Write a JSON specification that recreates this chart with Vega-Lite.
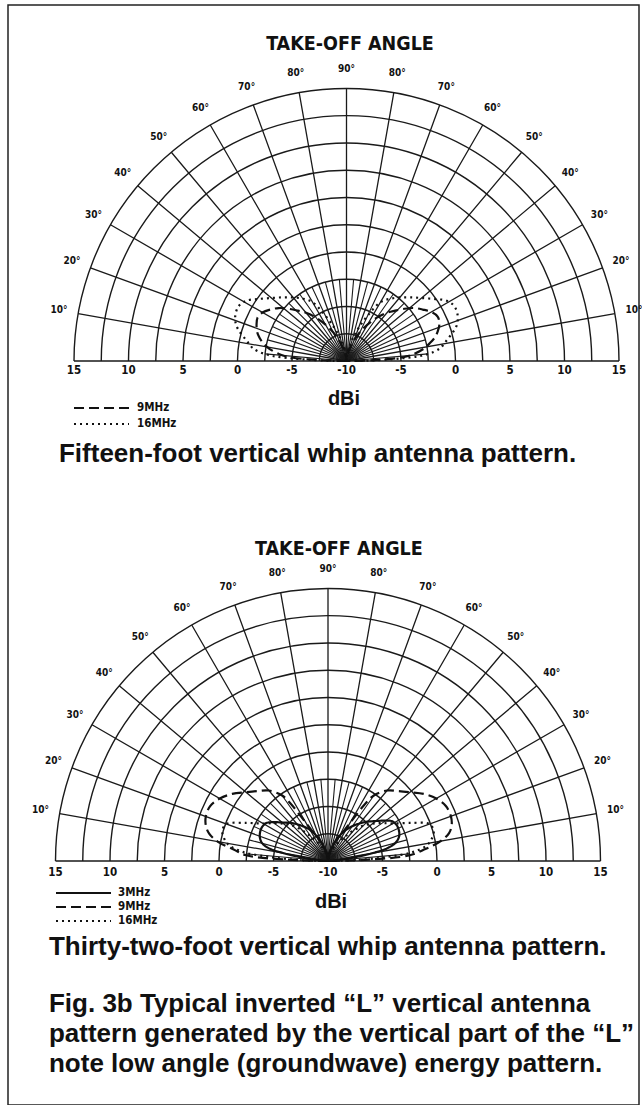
{
  "$schema": "https://vega.github.io/schema/vega-lite/v6.json",
  "width": 642,
  "height": 1105,
  "autosize": {"type": "fit", "contains": "padding"},
  "padding": {"left": 8, "top": 5, "right": 3, "bottom": 0},
  "background": "white",
  "config": {"view": {"stroke": "#222", "strokeWidth": 1.5}},
  "datasets": {
    "rings": [{"db": -7.5}, {"db": -5}, {"db": -2.5}, {"db": 0}, {"db": 2.5}, {"db": 5}, {"db": 7.5}, {"db": 10}, {"db": 12.5}, {"db": 15}],
    "major": [{"t": 0}, {"t": 10}, {"t": 20}, {"t": 30}, {"t": 40}, {"t": 50}, {"t": 60}, {"t": 70}, {"t": 80}, {"t": 90}, {"t": 100}, {"t": 110}, {"t": 120}, {"t": 130}, {"t": 140}, {"t": 150}, {"t": 160}, {"t": 170}, {"t": 180}],
    "minor": [{"t": 5}, {"t": 15}, {"t": 25}, {"t": 35}, {"t": 45}, {"t": 55}, {"t": 65}, {"t": 75}, {"t": 85}, {"t": 95}, {"t": 105}, {"t": 115}, {"t": 125}, {"t": 135}, {"t": 145}, {"t": 155}, {"t": 165}, {"t": 175}],
    "ticks": [{"db": 15}, {"db": 10}, {"db": 5}, {"db": 0}, {"db": -5}, {"db": -10}],
    "angles": [
      {"t": 10, "lab": "10°"}, {"t": 20, "lab": "20°"}, {"t": 30, "lab": "30°"}, {"t": 40, "lab": "40°"},
      {"t": 50, "lab": "50°"}, {"t": 60, "lab": "60°"}, {"t": 70, "lab": "70°"}, {"t": 80, "lab": "80°"},
      {"t": 90, "lab": "90°"}, {"t": 100, "lab": "80°"}, {"t": 110, "lab": "70°"}, {"t": 120, "lab": "60°"},
      {"t": 130, "lab": "50°"}, {"t": 140, "lab": "40°"}, {"t": 150, "lab": "30°"}, {"t": 160, "lab": "20°"},
      {"t": 170, "lab": "10°"}
    ],
    "patA": [
      {"f": "9MHz", "t": 0, "db": -10}, {"f": "9MHz", "t": 2, "db": -7.25}, {"f": "9MHz", "t": 4, "db": -4.68}, {"f": "9MHz", "t": 6, "db": -3.76},
      {"f": "9MHz", "t": 9, "db": -2.84}, {"f": "9MHz", "t": 12, "db": -2.2}, {"f": "9MHz", "t": 15, "db": -1.74}, {"f": "9MHz", "t": 18, "db": -1.38},
      {"f": "9MHz", "t": 22, "db": -1.1}, {"f": "9MHz", "t": 26, "db": -0.92}, {"f": "9MHz", "t": 30, "db": -1.1}, {"f": "9MHz", "t": 34, "db": -1.56},
      {"f": "9MHz", "t": 38, "db": -2.11}, {"f": "9MHz", "t": 42, "db": -2.84}, {"f": "9MHz", "t": 46, "db": -3.58}, {"f": "9MHz", "t": 50, "db": -4.22},
      {"f": "9MHz", "t": 55, "db": -5.14}, {"f": "9MHz", "t": 60, "db": -6.15}, {"f": "9MHz", "t": 65, "db": -7.06}, {"f": "9MHz", "t": 70, "db": -7.98},
      {"f": "9MHz", "t": 75, "db": -8.72}, {"f": "9MHz", "t": 80, "db": -9.27}, {"f": "9MHz", "t": 85, "db": -9.72}, {"f": "9MHz", "t": 90, "db": -10},
      {"f": "9MHz", "t": 95, "db": -9.72}, {"f": "9MHz", "t": 100, "db": -9.27}, {"f": "9MHz", "t": 105, "db": -8.72}, {"f": "9MHz", "t": 110, "db": -7.98},
      {"f": "9MHz", "t": 115, "db": -7.06}, {"f": "9MHz", "t": 120, "db": -6.15}, {"f": "9MHz", "t": 125, "db": -5.14}, {"f": "9MHz", "t": 130, "db": -4.22},
      {"f": "9MHz", "t": 134, "db": -3.58}, {"f": "9MHz", "t": 138, "db": -2.84}, {"f": "9MHz", "t": 142, "db": -2.11}, {"f": "9MHz", "t": 146, "db": -1.56},
      {"f": "9MHz", "t": 150, "db": -1.0}, {"f": "9MHz", "t": 154, "db": -0.7}, {"f": "9MHz", "t": 158, "db": -0.8}, {"f": "9MHz", "t": 162, "db": -1.2},
      {"f": "9MHz", "t": 165, "db": -1.6}, {"f": "9MHz", "t": 168, "db": -2.2}, {"f": "9MHz", "t": 171, "db": -2.84}, {"f": "9MHz", "t": 174, "db": -3.76},
      {"f": "9MHz", "t": 176, "db": -4.68}, {"f": "9MHz", "t": 178, "db": -7.25}, {"f": "9MHz", "t": 180, "db": -10},
      {"f": "16MHz", "t": 0, "db": -10}, {"f": "16MHz", "t": 1, "db": -8.17}, {"f": "16MHz", "t": 2, "db": -6.33}, {"f": "16MHz", "t": 3, "db": -4.5},
      {"f": "16MHz", "t": 4, "db": -3.12}, {"f": "16MHz", "t": 6, "db": -1.93}, {"f": "16MHz", "t": 8, "db": -1.28}, {"f": "16MHz", "t": 10, "db": -0.92},
      {"f": "16MHz", "t": 12, "db": -0.55}, {"f": "16MHz", "t": 15, "db": 0.09}, {"f": "16MHz", "t": 18, "db": 0.64}, {"f": "16MHz", "t": 22, "db": 1.01},
      {"f": "16MHz", "t": 27, "db": 1.1}, {"f": "16MHz", "t": 31, "db": 0.73}, {"f": "16MHz", "t": 35, "db": -0.09}, {"f": "16MHz", "t": 40, "db": -1.01},
      {"f": "16MHz", "t": 45, "db": -1.74}, {"f": "16MHz", "t": 50, "db": -2.39}, {"f": "16MHz", "t": 55, "db": -3.03}, {"f": "16MHz", "t": 60, "db": -3.76},
      {"f": "16MHz", "t": 65, "db": -5.41}, {"f": "16MHz", "t": 70, "db": -6.79}, {"f": "16MHz", "t": 75, "db": -7.89}, {"f": "16MHz", "t": 80, "db": -8.81},
      {"f": "16MHz", "t": 85, "db": -9.45}, {"f": "16MHz", "t": 90, "db": -10}, {"f": "16MHz", "t": 95, "db": -9.45}, {"f": "16MHz", "t": 100, "db": -8.81},
      {"f": "16MHz", "t": 105, "db": -7.89}, {"f": "16MHz", "t": 110, "db": -6.79}, {"f": "16MHz", "t": 115, "db": -5.41}, {"f": "16MHz", "t": 120, "db": -3.76},
      {"f": "16MHz", "t": 125, "db": -3.03}, {"f": "16MHz", "t": 130, "db": -2.39}, {"f": "16MHz", "t": 135, "db": -1.74}, {"f": "16MHz", "t": 140, "db": -1.01},
      {"f": "16MHz", "t": 145, "db": -0.09}, {"f": "16MHz", "t": 149, "db": 0.73}, {"f": "16MHz", "t": 153, "db": 1.1}, {"f": "16MHz", "t": 158, "db": 1.01},
      {"f": "16MHz", "t": 162, "db": 0.64}, {"f": "16MHz", "t": 165, "db": 0.09}, {"f": "16MHz", "t": 168, "db": -0.55}, {"f": "16MHz", "t": 170, "db": -0.92},
      {"f": "16MHz", "t": 172, "db": -1.28}, {"f": "16MHz", "t": 174, "db": -1.93}, {"f": "16MHz", "t": 176, "db": -3.12}, {"f": "16MHz", "t": 177, "db": -4.5},
      {"f": "16MHz", "t": 178, "db": -6.33}, {"f": "16MHz", "t": 179, "db": -8.17}, {"f": "16MHz", "t": 180, "db": -10}
    ],
    "patB": [
      {"f": "3MHz", "t": 0, "db": -10}, {"f": "3MHz", "t": 4, "db": -9.27}, {"f": "3MHz", "t": 8, "db": -7.43}, {"f": "3MHz", "t": 10, "db": -5.87},
      {"f": "3MHz", "t": 12, "db": -4.5}, {"f": "3MHz", "t": 15, "db": -3.76}, {"f": "3MHz", "t": 19, "db": -3.39}, {"f": "3MHz", "t": 24, "db": -3.21},
      {"f": "3MHz", "t": 28, "db": -3.21}, {"f": "3MHz", "t": 32, "db": -3.39}, {"f": "3MHz", "t": 36, "db": -3.94}, {"f": "3MHz", "t": 40, "db": -4.5},
      {"f": "3MHz", "t": 45, "db": -5.05}, {"f": "3MHz", "t": 50, "db": -5.6}, {"f": "3MHz", "t": 55, "db": -6.15}, {"f": "3MHz", "t": 60, "db": -6.7},
      {"f": "3MHz", "t": 65, "db": -7.43}, {"f": "3MHz", "t": 70, "db": -8.17}, {"f": "3MHz", "t": 75, "db": -8.81}, {"f": "3MHz", "t": 80, "db": -9.27},
      {"f": "3MHz", "t": 85, "db": -9.72}, {"f": "3MHz", "t": 90, "db": -10}, {"f": "3MHz", "t": 95, "db": -9.72}, {"f": "3MHz", "t": 100, "db": -9.27},
      {"f": "3MHz", "t": 105, "db": -8.81}, {"f": "3MHz", "t": 110, "db": -8.17}, {"f": "3MHz", "t": 115, "db": -7.43}, {"f": "3MHz", "t": 120, "db": -6.7},
      {"f": "3MHz", "t": 125, "db": -6.1}, {"f": "3MHz", "t": 130, "db": -5.5}, {"f": "3MHz", "t": 135, "db": -4.9}, {"f": "3MHz", "t": 140, "db": -4.3},
      {"f": "3MHz", "t": 144, "db": -3.7}, {"f": "3MHz", "t": 148, "db": -3.1}, {"f": "3MHz", "t": 152, "db": -2.9}, {"f": "3MHz", "t": 156, "db": -2.9},
      {"f": "3MHz", "t": 161, "db": -3.1}, {"f": "3MHz", "t": 165, "db": -3.6}, {"f": "3MHz", "t": 168, "db": -4.5}, {"f": "3MHz", "t": 170, "db": -5.87},
      {"f": "3MHz", "t": 172, "db": -7.43}, {"f": "3MHz", "t": 176, "db": -9.27}, {"f": "3MHz", "t": 180, "db": -10},
      {"f": "9MHz", "t": 0, "db": -10}, {"f": "9MHz", "t": 2, "db": -6.33}, {"f": "9MHz", "t": 4, "db": -2.48}, {"f": "9MHz", "t": 7, "db": -1.28},
      {"f": "9MHz", "t": 10, "db": 0.28}, {"f": "9MHz", "t": 13, "db": 1.19}, {"f": "9MHz", "t": 16, "db": 1.65}, {"f": "9MHz", "t": 20, "db": 1.93},
      {"f": "9MHz", "t": 25, "db": 1.93}, {"f": "9MHz", "t": 30, "db": 1.47}, {"f": "9MHz", "t": 35, "db": 0.73}, {"f": "9MHz", "t": 40, "db": -0.18},
      {"f": "9MHz", "t": 45, "db": -0.92}, {"f": "9MHz", "t": 50, "db": -1.56}, {"f": "9MHz", "t": 55, "db": -2.66}, {"f": "9MHz", "t": 57, "db": -3.76},
      {"f": "9MHz", "t": 59, "db": -5.41}, {"f": "9MHz", "t": 62, "db": -6.79}, {"f": "9MHz", "t": 66, "db": -7.52}, {"f": "9MHz", "t": 70, "db": -8.17},
      {"f": "9MHz", "t": 75, "db": -8.72}, {"f": "9MHz", "t": 80, "db": -9.27}, {"f": "9MHz", "t": 85, "db": -9.63}, {"f": "9MHz", "t": 90, "db": -10},
      {"f": "9MHz", "t": 95, "db": -9.63}, {"f": "9MHz", "t": 100, "db": -9.27}, {"f": "9MHz", "t": 105, "db": -8.72}, {"f": "9MHz", "t": 110, "db": -8.17},
      {"f": "9MHz", "t": 114, "db": -7.52}, {"f": "9MHz", "t": 118, "db": -6.79}, {"f": "9MHz", "t": 121, "db": -5.41}, {"f": "9MHz", "t": 123, "db": -3.76},
      {"f": "9MHz", "t": 125, "db": -2.66}, {"f": "9MHz", "t": 130, "db": -1.56}, {"f": "9MHz", "t": 135, "db": -0.92}, {"f": "9MHz", "t": 140, "db": -0.18},
      {"f": "9MHz", "t": 145, "db": 0.73}, {"f": "9MHz", "t": 150, "db": 1.47}, {"f": "9MHz", "t": 155, "db": 1.93}, {"f": "9MHz", "t": 160, "db": 2.0},
      {"f": "9MHz", "t": 164, "db": 1.8}, {"f": "9MHz", "t": 167, "db": 1.4}, {"f": "9MHz", "t": 170, "db": 0.5}, {"f": "9MHz", "t": 173, "db": -1.0},
      {"f": "9MHz", "t": 176, "db": -2.48}, {"f": "9MHz", "t": 178, "db": -6.33}, {"f": "9MHz", "t": 180, "db": -10},
      {"f": "16MHz", "t": 0, "db": -10}, {"f": "16MHz", "t": 2, "db": -7.25}, {"f": "16MHz", "t": 4, "db": -4.5}, {"f": "16MHz", "t": 6, "db": -2.2},
      {"f": "16MHz", "t": 9, "db": -0.83}, {"f": "16MHz", "t": 12, "db": -0.28}, {"f": "16MHz", "t": 16, "db": 0.09}, {"f": "16MHz", "t": 20, "db": -0.09},
      {"f": "16MHz", "t": 25, "db": -1.74}, {"f": "16MHz", "t": 30, "db": -3.12}, {"f": "16MHz", "t": 35, "db": -3.94}, {"f": "16MHz", "t": 40, "db": -4.68},
      {"f": "16MHz", "t": 45, "db": -5.41}, {"f": "16MHz", "t": 50, "db": -6.33}, {"f": "16MHz", "t": 55, "db": -7.25}, {"f": "16MHz", "t": 60, "db": -7.98},
      {"f": "16MHz", "t": 70, "db": -8.9}, {"f": "16MHz", "t": 80, "db": -9.45}, {"f": "16MHz", "t": 90, "db": -10}, {"f": "16MHz", "t": 100, "db": -9.45},
      {"f": "16MHz", "t": 110, "db": -8.9}, {"f": "16MHz", "t": 120, "db": -7.98}, {"f": "16MHz", "t": 125, "db": -7.25}, {"f": "16MHz", "t": 130, "db": -6.33},
      {"f": "16MHz", "t": 135, "db": -5.41}, {"f": "16MHz", "t": 140, "db": -4.68}, {"f": "16MHz", "t": 145, "db": -3.94}, {"f": "16MHz", "t": 150, "db": -3.12},
      {"f": "16MHz", "t": 155, "db": -1.74}, {"f": "16MHz", "t": 160, "db": -0.09}, {"f": "16MHz", "t": 164, "db": 0.09}, {"f": "16MHz", "t": 168, "db": -0.28},
      {"f": "16MHz", "t": 171, "db": -0.83}, {"f": "16MHz", "t": 174, "db": -2.2}, {"f": "16MHz", "t": 176, "db": -4.5}, {"f": "16MHz", "t": 178, "db": -7.25},
      {"f": "16MHz", "t": 180, "db": -10}
    ]
  },
  "layer": [
    {
      "layer": [
        {
          "data": {"name": "rings"},
          "mark": {"type": "arc", "filled": false, "color": "#1a1a1a", "strokeWidth": 1.4},
          "encoding": {
            "x": {"datum": 0, "type": "quantitative", "scale": {"domain": [-31.055, 26.835], "nice": false, "zero": false}, "axis": null},
            "y": {"datum": 0, "type": "quantitative", "scale": {"domain": [-68.257, 32.661], "nice": false, "zero": false}, "axis": null},
            "theta": {"datum": 0, "type": "quantitative", "scale": {"domain": [0, 180], "range": [-1.5708, 1.5708]}},
            "theta2": {"datum": 180},
            "radius": {"field": "db", "type": "quantitative", "scale": {"type": "linear", "domain": [-10, 15], "range": [0, 272.5], "zero": false}},
            "radius2": {"field": "db"}
          }
        },
        {
          "data": {"name": "major"},
          "mark": {"type": "arc", "filled": false, "color": "#1a1a1a", "strokeWidth": 1.3},
          "encoding": {
            "x": {"datum": 0, "type": "quantitative"},
            "y": {"datum": 0, "type": "quantitative"},
            "theta": {"field": "t", "type": "quantitative", "stack": null},
            "theta2": {"field": "t"},
            "radius": {"datum": 15, "type": "quantitative"},
            "radius2": {"datum": -10}
          }
        },
        {
          "data": {"name": "minor"},
          "mark": {"type": "arc", "filled": false, "color": "#1a1a1a", "strokeWidth": 1.1},
          "encoding": {
            "x": {"datum": 0, "type": "quantitative"},
            "y": {"datum": 0, "type": "quantitative"},
            "theta": {"field": "t", "type": "quantitative", "stack": null},
            "theta2": {"field": "t"},
            "radius": {"datum": -2.5, "type": "quantitative"},
            "radius2": {"datum": -10}
          }
        },
        {
          "data": {"name": "patA"},
          "transform": [
            {"calculate": "-(datum.db + 10) * cos(datum.t * PI / 180)", "as": "px"},
            {"calculate": "(datum.db + 10) * sin(datum.t * PI / 180)", "as": "py"}
          ],
          "mark": {"type": "line", "color": "#111", "strokeWidth": 2.2, "interpolate": "catmull-rom"},
          "encoding": {
            "x": {"field": "px", "type": "quantitative"},
            "y": {"field": "py", "type": "quantitative"},
            "order": {"field": "t"},
            "strokeDash": {
              "field": "f", "type": "nominal",
              "scale": {"domain": ["9MHz", "16MHz"], "range": [[10, 5], [2, 4]]},
              "legend": {
                "orient": "none", "legendX": 87, "legendY": 396.5, "title": null, "padding": 0,
                "symbolType": "M-5,0H5", "symbolSize": 121, "symbolStrokeWidth": 2, "symbolStrokeColor": "#111",
                "labelOffset": 29, "rowPadding": 4, "labelFont": "Liberation Sans Narrow, Arial Narrow, DejaVu Sans Condensed, sans-serif",
                "labelFontSize": 11.5, "labelFontWeight": "bold", "labelColor": "#111"
              }
            }
          }
        },
        {
          "data": {"name": "angles"},
          "mark": {"type": "text", "font": "Liberation Sans Narrow, Arial Narrow, DejaVu Sans Condensed, sans-serif", "fontSize": 10, "fontWeight": "bold", "color": "#111", "align": "center", "baseline": "middle"},
          "encoding": {
            "x": {"datum": 0, "type": "quantitative"},
            "y": {"datum": 0, "type": "quantitative"},
            "theta": {"field": "t", "type": "quantitative"},
            "radius": {"datum": 16.79, "type": "quantitative"},
            "text": {"field": "lab", "type": "nominal"}
          }
        },
        {
          "data": {"name": "ticks"},
          "mark": {"type": "text", "font": "Liberation Sans Narrow, Arial Narrow, DejaVu Sans Condensed, sans-serif", "fontSize": 11.5, "fontWeight": "bold", "color": "#111", "align": "center", "baseline": "middle", "dy": 10},
          "encoding": {
            "x": {"datum": 0, "type": "quantitative"},
            "y": {"datum": 0, "type": "quantitative"},
            "theta": {"datum": 0, "type": "quantitative"},
            "radius": {"field": "db", "type": "quantitative"},
            "text": {"field": "db", "type": "nominal"}
          }
        },
        {
          "data": {"name": "ticks"},
          "transform": [{"filter": "datum.db > -10"}],
          "mark": {"type": "text", "font": "Liberation Sans Narrow, Arial Narrow, DejaVu Sans Condensed, sans-serif", "fontSize": 11.5, "fontWeight": "bold", "color": "#111", "align": "center", "baseline": "middle", "dy": 10},
          "encoding": {
            "x": {"datum": 0, "type": "quantitative"},
            "y": {"datum": 0, "type": "quantitative"},
            "theta": {"datum": 180, "type": "quantitative"},
            "radius": {"field": "db", "type": "quantitative"},
            "text": {"field": "db", "type": "nominal"}
          }
        },
        {
          "data": {"values": [{"s": "TAKE-OFF ANGLE"}]},
          "mark": {"type": "text", "font": "Liberation Sans Narrow, Arial Narrow, DejaVu Sans Condensed, sans-serif", "fontSize": 19.5, "fontWeight": "bold", "color": "#111", "align": "center", "baseline": "alphabetic"},
          "encoding": {"x": {"datum": 0.32, "type": "quantitative"}, "y": {"datum": 28.53, "type": "quantitative"}, "text": {"field": "s"}}
        },
        {
          "data": {"values": [{"s": "dBi"}]},
          "mark": {"type": "text", "font": "Liberation Sans, Arial, sans-serif", "fontSize": 20, "fontWeight": "bold", "color": "#111", "align": "center", "baseline": "alphabetic"},
          "encoding": {"x": {"datum": -0.23, "type": "quantitative"}, "y": {"datum": -4.04, "type": "quantitative"}, "text": {"field": "s"}}
        },
        {
          "data": {"values": [{"s": "Fifteen-foot vertical whip antenna pattern."}]},
          "mark": {"type": "text", "font": "Liberation Sans, Arial, sans-serif", "fontSize": 26, "fontWeight": "bold", "color": "#111", "align": "left", "baseline": "alphabetic"},
          "encoding": {"x": {"datum": -26.38, "type": "quantitative"}, "y": {"datum": -9.27, "type": "quantitative"}, "text": {"field": "s"}}
        }
      ]
    },
    {
      "layer": [
        {
          "data": {"name": "rings"},
          "mark": {"type": "arc", "filled": false, "color": "#1a1a1a", "strokeWidth": 1.4},
          "encoding": {
            "x": {"datum": 0, "type": "quantitative", "scale": {"domain": [-29.358, 28.532], "nice": false, "zero": false}, "axis": null},
            "y": {"datum": 0, "type": "quantitative", "scale": {"domain": [-22.385, 78.532], "nice": false, "zero": false}, "axis": null},
            "theta": {"datum": 0, "type": "quantitative"},
            "theta2": {"datum": 180},
            "radius": {"field": "db", "type": "quantitative"},
            "radius2": {"field": "db"}
          }
        },
        {
          "data": {"name": "major"},
          "mark": {"type": "arc", "filled": false, "color": "#1a1a1a", "strokeWidth": 1.3},
          "encoding": {
            "x": {"datum": 0, "type": "quantitative"},
            "y": {"datum": 0, "type": "quantitative"},
            "theta": {"field": "t", "type": "quantitative", "stack": null},
            "theta2": {"field": "t"},
            "radius": {"datum": 15, "type": "quantitative"},
            "radius2": {"datum": -10}
          }
        },
        {
          "data": {"name": "minor"},
          "mark": {"type": "arc", "filled": false, "color": "#1a1a1a", "strokeWidth": 1.1},
          "encoding": {
            "x": {"datum": 0, "type": "quantitative"},
            "y": {"datum": 0, "type": "quantitative"},
            "theta": {"field": "t", "type": "quantitative", "stack": null},
            "theta2": {"field": "t"},
            "radius": {"datum": -2.5, "type": "quantitative"},
            "radius2": {"datum": -10}
          }
        },
        {
          "data": {"name": "patB"},
          "transform": [
            {"calculate": "-(datum.db + 10) * cos(datum.t * PI / 180)", "as": "px"},
            {"calculate": "(datum.db + 10) * sin(datum.t * PI / 180)", "as": "py"}
          ],
          "mark": {"type": "line", "color": "#111", "strokeWidth": 2.2, "interpolate": "catmull-rom"},
          "encoding": {
            "x": {"field": "px", "type": "quantitative"},
            "y": {"field": "py", "type": "quantitative"},
            "order": {"field": "t"},
            "strokeDash": {
              "field": "f", "type": "nominal",
              "scale": {"domain": ["3MHz", "9MHz", "16MHz"], "range": [[1, 0], [10, 5], [2, 4]]},
              "legend": {
                "orient": "none", "legendX": 69, "legendY": 881.5, "title": null, "padding": 0,
                "symbolType": "M-5,0H5", "symbolSize": 121, "symbolStrokeWidth": 2, "symbolStrokeColor": "#111",
                "labelOffset": 28, "rowPadding": 2, "labelFont": "Liberation Sans Narrow, Arial Narrow, DejaVu Sans Condensed, sans-serif",
                "labelFontSize": 11.5, "labelFontWeight": "bold", "labelColor": "#111"
              }
            }
          }
        },
        {
          "data": {"name": "angles"},
          "mark": {"type": "text", "font": "Liberation Sans Narrow, Arial Narrow, DejaVu Sans Condensed, sans-serif", "fontSize": 10, "fontWeight": "bold", "color": "#111", "align": "center", "baseline": "middle"},
          "encoding": {
            "x": {"datum": 0, "type": "quantitative"},
            "y": {"datum": 0, "type": "quantitative"},
            "theta": {"field": "t", "type": "quantitative"},
            "radius": {"datum": 16.79, "type": "quantitative"},
            "text": {"field": "lab", "type": "nominal"}
          }
        },
        {
          "data": {"name": "ticks"},
          "mark": {"type": "text", "font": "Liberation Sans Narrow, Arial Narrow, DejaVu Sans Condensed, sans-serif", "fontSize": 11.5, "fontWeight": "bold", "color": "#111", "align": "center", "baseline": "middle", "dy": 12},
          "encoding": {
            "x": {"datum": 0, "type": "quantitative"},
            "y": {"datum": 0, "type": "quantitative"},
            "theta": {"datum": 0, "type": "quantitative"},
            "radius": {"field": "db", "type": "quantitative"},
            "text": {"field": "db", "type": "nominal"}
          }
        },
        {
          "data": {"name": "ticks"},
          "transform": [{"filter": "datum.db > -10"}],
          "mark": {"type": "text", "font": "Liberation Sans Narrow, Arial Narrow, DejaVu Sans Condensed, sans-serif", "fontSize": 11.5, "fontWeight": "bold", "color": "#111", "align": "center", "baseline": "middle", "dy": 12},
          "encoding": {
            "x": {"datum": 0, "type": "quantitative"},
            "y": {"datum": 0, "type": "quantitative"},
            "theta": {"datum": 180, "type": "quantitative"},
            "radius": {"field": "db", "type": "quantitative"},
            "text": {"field": "db", "type": "nominal"}
          }
        },
        {
          "data": {"values": [{"s": "TAKE-OFF ANGLE"}]},
          "mark": {"type": "text", "font": "Liberation Sans Narrow, Arial Narrow, DejaVu Sans Condensed, sans-serif", "fontSize": 19.5, "fontWeight": "bold", "color": "#111", "align": "center", "baseline": "alphabetic"},
          "encoding": {"x": {"datum": 1.0, "type": "quantitative"}, "y": {"datum": 28.1, "type": "quantitative"}, "text": {"field": "s"}}
        },
        {
          "data": {"values": [{"s": "dBi"}]},
          "mark": {"type": "text", "font": "Liberation Sans, Arial, sans-serif", "fontSize": 20, "fontWeight": "bold", "color": "#111", "align": "center", "baseline": "alphabetic"},
          "encoding": {"x": {"datum": 0.28, "type": "quantitative"}, "y": {"datum": -4.31, "type": "quantitative"}, "text": {"field": "s"}}
        },
        {
          "data": {"values": [{"s": "Thirty-two-foot vertical whip antenna pattern."}]},
          "mark": {"type": "text", "font": "Liberation Sans, Arial, sans-serif", "fontSize": 26, "fontWeight": "bold", "color": "#111", "align": "left", "baseline": "alphabetic"},
          "encoding": {"x": {"datum": -25.6, "type": "quantitative"}, "y": {"datum": -8.62, "type": "quantitative"}, "text": {"field": "s"}}
        },
        {
          "data": {"values": [{"s": "Fig. 3b Typical inverted “L” vertical antenna\npattern generated by the vertical part of the “L”\nnote low angle (groundwave) energy pattern."}]},
          "mark": {"type": "text", "font": "Liberation Sans, Arial, sans-serif", "fontSize": 26, "fontWeight": "bold", "color": "#111", "align": "left", "baseline": "alphabetic", "lineBreak": "\n", "lineHeight": 30},
          "encoding": {"x": {"datum": -25.6, "type": "quantitative"}, "y": {"datum": -13.85, "type": "quantitative"}, "text": {"field": "s"}}
        }
      ]
    }
  ],
  "resolve": {
    "scale": {"x": "independent", "y": "independent", "strokeDash": "independent"},
    "legend": {"strokeDash": "independent"}
  }
}
